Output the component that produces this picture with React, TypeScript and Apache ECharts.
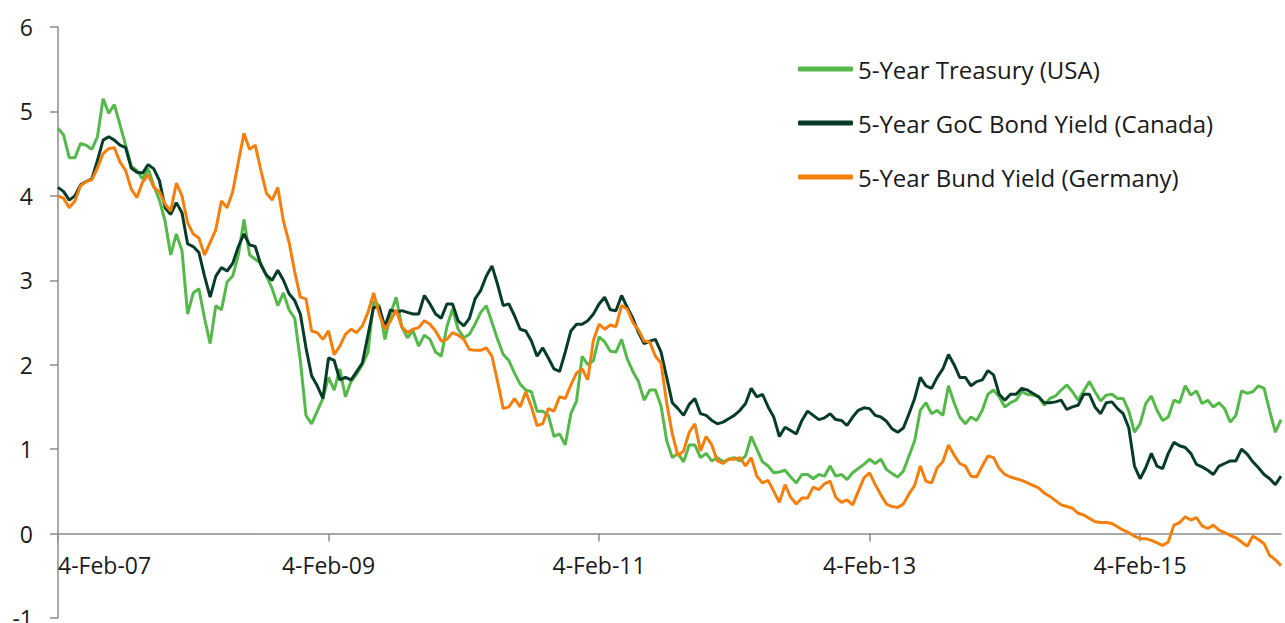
import React, { useEffect, useRef } from "react";
import * as echarts from "echarts";

// Semi-monthly observations starting 4-Feb-2007 (4th and 19th of each month)
const seriesNames = [
  "5-Year Treasury (USA)",
  "5-Year GoC Bond Yield (Canada)",
  "5-Year Bund Yield (Germany)",
];

const treasuryUSA = [
  4.8, 4.72, 4.45, 4.45, 4.62, 4.6, 4.55, 4.7, 5.15, 4.98,
  5.08, 4.84, 4.6, 4.35, 4.3, 4.2, 4.32, 4.12, 3.95, 3.7,
  3.3, 3.55, 3.35, 2.6, 2.85, 2.9, 2.55, 2.25, 2.7, 2.65,
  2.98, 3.05, 3.3, 3.72, 3.3, 3.25, 3.2, 3.05, 2.9, 2.7,
  2.85, 2.65, 2.55, 2.05,
  1.4, 1.3, 1.45, 1.6, 1.85, 1.7, 1.95, 1.62, 1.8, 1.89,
  2.0, 2.15, 2.75, 2.7, 2.3, 2.6, 2.8, 2.45, 2.32, 2.4,
  2.22, 2.35, 2.3, 2.15, 2.1, 2.45, 2.66, 2.42, 2.32, 2.36,
  2.48, 2.62, 2.7, 2.5, 2.3, 2.12, 2.05, 1.9, 1.77, 1.7,
  1.68, 1.45, 1.45,
  1.4, 1.15, 1.18, 1.05, 1.42, 1.57, 2.1, 2.0, 2.05, 2.33,
  2.27, 2.16, 2.15, 2.3, 2.07, 1.92, 1.8, 1.58, 1.7, 1.7,
  1.51, 1.1, 0.9, 0.95, 0.85, 1.05, 1.05, 0.9, 0.95,
  0.86, 0.9, 0.85, 0.88, 0.9, 0.86, 0.92, 1.15, 1.0, 0.85,
  0.8, 0.72, 0.73, 0.75, 0.67, 0.6,
  0.7, 0.7, 0.65, 0.7, 0.68, 0.8, 0.68, 0.7, 0.64, 0.72,
  0.77, 0.82, 0.88, 0.83, 0.88, 0.76, 0.71, 0.67, 0.74, 0.92,
  1.1, 1.46, 1.55, 1.42, 1.46, 1.4, 1.75, 1.55, 1.38, 1.3,
  1.38, 1.34, 1.46, 1.65, 1.7, 1.62, 1.5, 1.55, 1.58, 1.68,
  1.65, 1.64,
  1.62, 1.52, 1.6, 1.63, 1.7, 1.76, 1.68, 1.58, 1.69, 1.8,
  1.68, 1.57, 1.64, 1.65, 1.6, 1.6, 1.45, 1.2, 1.3, 1.54,
  1.63, 1.46, 1.34, 1.38, 1.58, 1.55, 1.75, 1.64, 1.69, 1.54,
  1.58, 1.5, 1.55, 1.48, 1.32, 1.4, 1.69, 1.66, 1.68, 1.75,
  1.72, 1.45, 1.2, 1.35,
];

const gocCanada = [
  4.1, 4.05, 3.95, 4.0, 4.13, 4.17, 4.2, 4.42, 4.66, 4.7,
  4.66, 4.6, 4.57, 4.33, 4.28, 4.27, 4.37, 4.32, 4.18, 3.86,
  3.78, 3.92, 3.8, 3.43, 3.4, 3.33, 3.05, 2.8, 3.05, 3.15,
  3.11, 3.2, 3.4, 3.55, 3.42, 3.4, 3.18, 3.06, 3.0, 3.12,
  3.0, 2.84, 2.76, 2.6,
  2.2, 1.87, 1.75, 1.6, 2.08, 2.05, 1.82, 1.85, 1.82, 1.92,
  2.02, 2.35, 2.68, 2.68, 2.45, 2.65, 2.62, 2.64, 2.62, 2.6,
  2.6, 2.82, 2.72, 2.6, 2.55, 2.72, 2.72, 2.52, 2.46, 2.55,
  2.78, 2.88, 3.05, 3.17, 2.95, 2.7, 2.72, 2.58, 2.42, 2.4,
  2.28, 2.1,
  2.2, 2.08, 1.95, 1.92, 2.15, 2.4, 2.48, 2.48, 2.52, 2.6,
  2.72, 2.8, 2.65, 2.64, 2.82, 2.68, 2.55, 2.38, 2.25, 2.28,
  2.3, 2.15,
  1.85, 1.55, 1.48, 1.4, 1.53, 1.6, 1.42, 1.4, 1.34, 1.3,
  1.32, 1.36, 1.4, 1.46, 1.54, 1.72, 1.62, 1.65, 1.5, 1.38,
  1.15, 1.26, 1.22, 1.18,
  1.34, 1.45, 1.4, 1.35, 1.37, 1.42, 1.35, 1.34, 1.28, 1.38,
  1.46, 1.49, 1.48, 1.4, 1.38, 1.33, 1.24, 1.2, 1.25, 1.42,
  1.6, 1.85, 1.75, 1.72, 1.85, 1.95, 2.12, 2.0, 1.85, 1.85,
  1.75, 1.8, 1.82, 1.93, 1.88, 1.65, 1.58, 1.65, 1.65, 1.72,
  1.7, 1.66,
  1.62, 1.55, 1.55, 1.56, 1.58, 1.47, 1.5, 1.52, 1.65, 1.65,
  1.5, 1.42, 1.55, 1.56, 1.48, 1.42, 1.25, 0.8, 0.65, 0.78,
  0.95, 0.8, 0.77, 0.95, 1.08, 1.04, 1.02, 0.95, 0.82, 0.79,
  0.75, 0.7, 0.8, 0.83, 0.86, 0.86, 1.0, 0.94, 0.85, 0.78,
  0.7, 0.65, 0.58, 0.68,
];

const bundGermany = [
  4.0, 3.97, 3.86, 3.94, 4.12, 4.17, 4.19, 4.33, 4.5, 4.56,
  4.57, 4.4, 4.3, 4.08, 3.98, 4.16, 4.25, 4.1, 4.05, 3.9,
  3.82, 4.15, 4.0, 3.68, 3.55, 3.5, 3.3, 3.45, 3.6, 3.94,
  3.86, 4.05, 4.4, 4.74, 4.55, 4.6, 4.3, 4.03, 3.95, 4.1,
  3.7, 3.45, 3.1, 2.8,
  2.78, 2.4, 2.38, 2.3, 2.4, 2.12, 2.22, 2.36, 2.42, 2.38,
  2.46, 2.62, 2.85, 2.6, 2.42, 2.52, 2.65, 2.45, 2.38, 2.42,
  2.44, 2.52, 2.48, 2.4, 2.28, 2.3, 2.38, 2.35, 2.3, 2.18,
  2.17, 2.17, 2.2, 2.1, 1.8, 1.48, 1.5, 1.6, 1.5, 1.68,
  1.5, 1.28, 1.3,
  1.48, 1.45, 1.62, 1.6, 1.76, 1.9, 1.95, 1.82, 2.29, 2.48,
  2.42, 2.47, 2.45, 2.7, 2.66, 2.5, 2.41, 2.28, 2.27, 2.1,
  2.02, 1.55, 1.18, 0.92, 0.98, 1.2, 1.3, 0.98, 1.15, 1.05,
  0.86, 0.83, 0.88, 0.88, 0.9, 0.8, 0.9, 0.68, 0.6, 0.63,
  0.5, 0.37, 0.58, 0.43, 0.35,
  0.42, 0.42, 0.55, 0.52, 0.59, 0.62, 0.43, 0.37, 0.4, 0.34,
  0.5, 0.66, 0.72, 0.58, 0.46, 0.35, 0.32, 0.31, 0.35, 0.47,
  0.57, 0.8, 0.62, 0.6, 0.78, 0.85, 1.05, 0.93, 0.83, 0.8,
  0.68, 0.67, 0.8, 0.92, 0.9, 0.77, 0.7, 0.67, 0.65, 0.63,
  0.6, 0.57,
  0.54, 0.48, 0.44, 0.39, 0.34, 0.32, 0.3, 0.24, 0.22, 0.18,
  0.14, 0.13, 0.13, 0.12, 0.08, 0.04, 0.01, -0.03, -0.06, -0.06,
  -0.08, -0.11, -0.14, -0.1, 0.1, 0.13, 0.2, 0.16, 0.19, 0.09,
  0.06, 0.1, 0.04, 0.01, -0.02, -0.05, -0.1, -0.15, -0.03, -0.07,
  -0.12, -0.26, -0.31, -0.38,
];

const tickLabels = ["4-Feb-07", "4-Feb-09", "4-Feb-11", "4-Feb-13", "4-Feb-15"];
const monthNames = ["Jan", "Feb", "Mar", "Apr", "May", "Jun", "Jul", "Aug", "Sep", "Oct", "Nov", "Dec"];
const colors = ["#55b84a", "#073d28", "#f47f0c"];

// category dates: 4th and 19th of each month, starting Feb 2007
const categories: string[] = treasuryUSA.map((_, i) => {
  const m = 1 + Math.floor(i / 2);
  const year = 2007 + Math.floor(m / 12);
  const day = i % 2 === 0 ? 4 : 19;
  return `${day}-${monthNames[m % 12]}-${String(year).slice(2)}`;
});

const FONT = "'Open Sans', sans-serif";
const Y_MIN = -1;
const Y_MAX = 6;
const GRID = { left: 58, right: 4, top: 27, bottom: 5 };
const CHART_H = 623;

export default function App() {
  const ref = useRef<HTMLDivElement>(null);
  useEffect(() => {
    if (!ref.current) return;
    const chart = echarts.init(ref.current, null, { renderer: "svg" });
    const showTick = (_: number, value: string) => tickLabels.indexOf(value) >= 0;
    // move the category axis up to the zero line of the value axis
    const plotH = CHART_H - GRID.top - GRID.bottom;
    const zeroOffset = -plotH * (0 - Y_MIN) / (Y_MAX - Y_MIN);
    chart.setOption({
      animation: false,
      backgroundColor: "#ffffff",
      textStyle: { fontFamily: FONT },
      grid: { ...GRID, containLabel: false, outerBoundsMode: "none" },
      legend: {
        orient: "vertical",
        left: 793,
        top: 52,
        icon: "roundRect",
        itemWidth: 55,
        itemHeight: 5,
        itemGap: 30,
        data: seriesNames,
        textStyle: { fontFamily: FONT, fontSize: 24, color: "#1a1a1a", lineHeight: 24 },
      },
      xAxis: {
        type: "category",
        data: categories,
        boundaryGap: false,
        position: "bottom",
        offset: zeroOffset,
        axisLine: { onZero: false, lineStyle: { color: "#8c8c8c", width: 1.5 } },
        axisTick: { show: true, length: 8, interval: showTick, lineStyle: { color: "#8c8c8c", width: 1.5 } },
        axisLabel: {
          interval: showTick,
          margin: 20,
          fontFamily: FONT,
          fontSize: 23,
          color: "#1a1a1a",
          alignMinLabel: "left",
        },
        splitLine: { show: false },
      },
      yAxis: {
        type: "value",
        min: Y_MIN,
        max: Y_MAX,
        interval: 1,
        axisLine: { show: true, lineStyle: { color: "#8c8c8c", width: 1.5 } },
        axisTick: { show: true, length: 8, lineStyle: { color: "#8c8c8c", width: 1.5 } },
        axisLabel: { margin: 25, fontFamily: FONT, fontSize: 23, color: "#1a1a1a" },
        splitLine: { show: false },
      },
      series: [
        { name: seriesNames[0], data: treasuryUSA, color: colors[0] },
        { name: seriesNames[1], data: gocCanada, color: colors[1] },
        { name: seriesNames[2], data: bundGermany, color: colors[2] },
      ].map((s) => ({
        ...s,
        type: "line",
        showSymbol: false,
        symbol: "none",
        smooth: false,
        lineStyle: { width: 3, color: s.color },
        itemStyle: { color: s.color },
      })),
    });
    return () => chart.dispose();
  }, []);
  return (
    <div
      ref={ref}
      style={{ position: "fixed", left: 0, top: 0, width: 1285, height: CHART_H }}
    />
  );
}
